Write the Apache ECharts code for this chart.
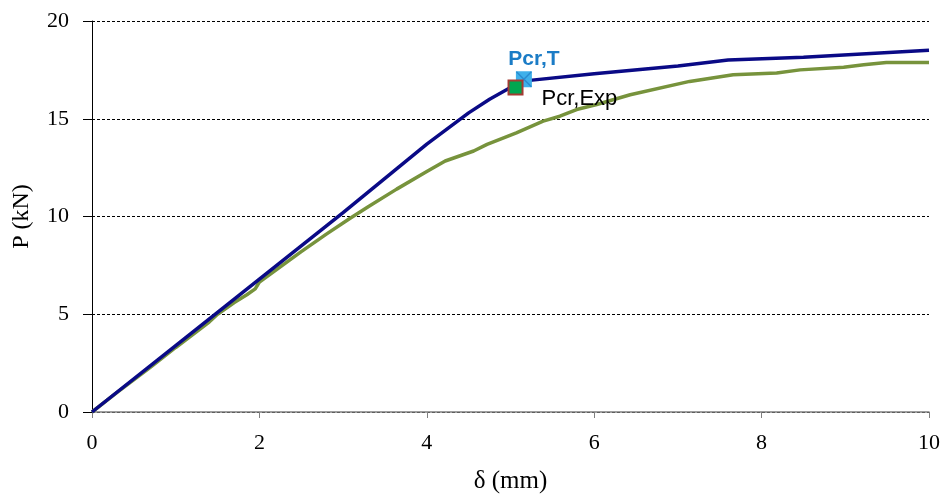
<!DOCTYPE html>
<html><head><meta charset="utf-8">
<script src="https://cdn.jsdelivr.net/npm/echarts@6/dist/echarts.min.js"></script>
<style>html,body{margin:0;padding:0;background:#fff}#c{width:944px;height:499px}</style>
</head><body><div id="c"></div>
<script>
const theoreticalX = [0, 1, 2, 3, 4, 4.5, 4.75, 5.0, 5.2, 6, 7, 7.6, 8.5, 10];
const theoreticalY = [0, 3.4, 6.8, 10.2, 13.7, 15.3, 16.0, 16.6, 16.95, 17.3, 17.7, 18.0, 18.15, 18.5];
const experimentalX = [0, 0.3, 0.7, 1, 1.4, 1.5, 1.7, 1.85, 1.95, 2.0, 2.5, 2.8, 3.08, 3.3, 3.64, 4.0, 4.22, 4.56, 4.72, 5.07, 5.39, 5.59, 5.79, 6.03, 6.43, 7.14, 7.66, 8.18, 8.46, 8.98, 9.22, 9.49, 10];
const experimentalY = [0, 1.0, 2.3, 3.3, 4.6, 5.0, 5.6, 6.0, 6.3, 6.65, 8.2, 9.1, 9.9, 10.5, 11.4, 12.3, 12.84, 13.35, 13.69, 14.28, 14.88, 15.13, 15.47, 15.73, 16.23, 16.91, 17.25, 17.34, 17.5, 17.64, 17.76, 17.88, 17.88];
const pcrT = [5.16, 17.02];
const pcrExp = [5.06, 16.6];
const xTicks = [0, 2, 4, 6, 8, 10];
const yTicks = [0, 5, 10, 15, 20];

const zip = (a, b) => a.map((v, i) => [v, b[i]]);
const chart = echarts.init(document.getElementById('c'));
chart.setOption({
  animation: false,
  grid: {left: 92, right: 15, top: 21, bottom: 85},
  xAxis: {
    type: 'value', min: xTicks[0], max: xTicks[xTicks.length - 1], interval: 2,
    name: 'δ (mm)', nameLocation: 'middle', nameGap: 57,
    nameTextStyle: {fontFamily: 'Liberation Serif', fontSize: 25, color: '#000'},
    axisLine: {show: true, lineStyle: {color: '#7f7f7f', width: 1.5}},
    axisTick: {show: true, inside: false, length: 6, lineStyle: {color: '#7f7f7f'}},
    axisLabel: {fontFamily: 'Liberation Serif', fontSize: 22, color: '#000', margin: 20},
    splitLine: {show: false}
  },
  yAxis: {
    type: 'value', min: yTicks[0], max: yTicks[yTicks.length - 1], interval: 5,
    name: 'P (kN)', nameLocation: 'middle', nameGap: 58, nameRotate: 90,
    nameTextStyle: {fontFamily: 'Liberation Serif', fontSize: 24, color: '#000'},
    axisLine: {show: true, lineStyle: {color: '#000', width: 1}},
    axisTick: {show: true, inside: false, length: 9, lineStyle: {color: '#000'}},
    axisLabel: {fontFamily: 'Liberation Serif', fontSize: 22, color: '#000', margin: 23},
    splitLine: {show: true, lineStyle: {color: '#000', type: [3, 2], width: 1}}
  },
  series: [
    {type: 'line', data: zip(experimentalX, experimentalY), showSymbol: false, symbol: 'none',
     lineStyle: {color: '#77933c', width: 3.5}, z: 2},
    {type: 'line', data: zip(theoreticalX, theoreticalY), showSymbol: false, symbol: 'none',
     lineStyle: {color: '#0a0a86', width: 3.5}, z: 3},
    {type: 'scatter', data: [pcrT], symbol: 'rect', symbolSize: 16,
     itemStyle: {color: '#3fb0ea', opacity: 1}, z: 4,
     label: {show: true, formatter: 'Pcr,T', position: 'top', distance: 2, offset: [10, 0],
             fontFamily: 'Liberation Sans', fontSize: 21, fontWeight: 'bold', color: '#1b7cc6'}},
    {type: 'scatter', data: [pcrT], symbol: 'path://M0,0L10,10M10,0L0,10', symbolSize: 15,
     itemStyle: {color: 'rgba(0,0,0,0)', borderColor: '#2a8cd0', borderWidth: 1.5, opacity: 1}, z: 5},
    {type: 'scatter', data: [pcrExp], symbol: 'rect', symbolSize: 14,
     itemStyle: {color: '#00a550', borderColor: '#a43a32', borderWidth: 2, opacity: 1}, z: 6,
     label: {show: true, formatter: 'Pcr,Exp', position: 'right', distance: 5, offset: [13, 11],
             fontFamily: 'Liberation Sans', fontSize: 22, color: '#000'}}
  ]
});
</script></body></html>
